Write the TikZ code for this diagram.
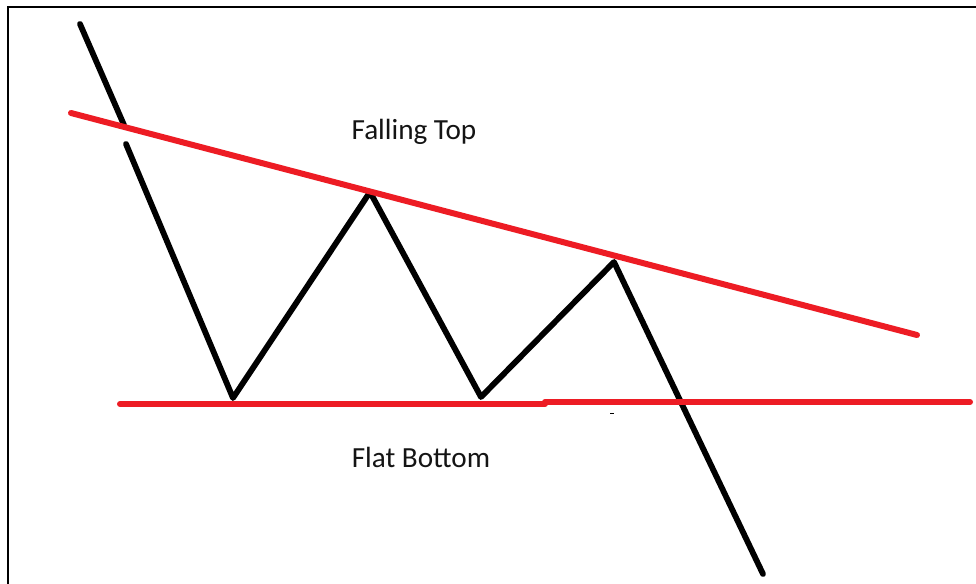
\documentclass[tikz,border=0pt]{standalone}
\usepackage{fontspec}
\setmainfont{Carlito}
\usepackage{xcolor}
\usetikzlibrary{positioning}
\definecolor{PaintRed}{HTML}{ED1C24}
\definecolor{Ink}{HTML}{141414}

\begin{document}
\begin{tikzpicture}[x=0.5pt,y=-0.5pt,
frame/.style={draw=black,line width=1.25pt},
price/.style={draw=black,line width=2.9pt,line cap=round,line join=round},
trend/.style={draw=PaintRed,line width=3pt,line cap=round},
lab/.style={anchor=base,inner sep=0pt,text=Ink,font=\fontsize{14.6}{17}\selectfont}]
\useasboundingbox (0,0) rectangle (976,584);
\fill[white] (0,0) rectangle (976,584);
\draw[frame] (8,584)--(8,7)--(976,7);
% price path
\coordinate (s0) at (80,24);
\coordinate (s1) at (124,125);
\coordinate (s2) at (126,144);
\coordinate (t1) at (233,398);
\coordinate (p1) at (370,192);
\coordinate (t2) at (481,397);
\coordinate (p2) at (614,262);
\coordinate (e) at (763,574);
\draw[price] (s0)--(s1);
\draw[price] (s2)--(t1)--(p1)--(t2)--(p2)--(e);
% trend lines
\coordinate (fa) at (71,113);
\coordinate (fb) at (917,335);
\coordinate (ba) at (120,404);
\coordinate (bm) at (545,404);
\coordinate (bn) at (545,402);
\coordinate (bb) at (970,402);
\draw[trend] (fa)--(fb);
\draw[trend] (ba)--(bm);
\draw[trend] (bn)--(bb);
\draw[line width=0.5pt] (610,413)--(614,413);
\node[lab] (top) at (414,139) {Falling Top};
\node[lab] (bot) at (421,467) {Flat Bottom};
\end{tikzpicture}
\end{document}
